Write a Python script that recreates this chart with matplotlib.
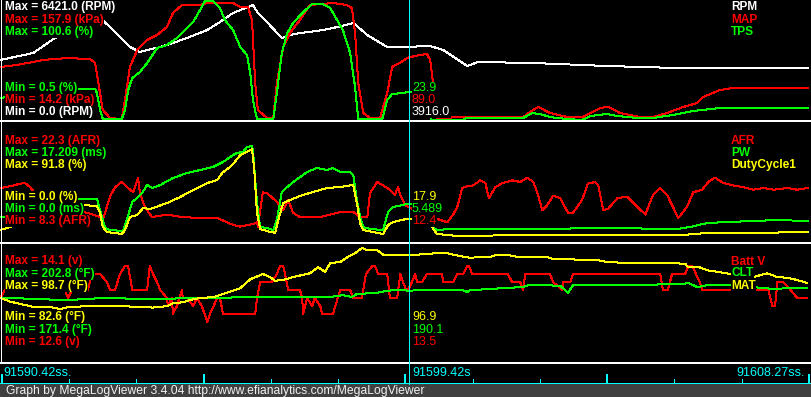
import matplotlib
matplotlib.use("Agg")
import matplotlib.pyplot as plt
from matplotlib.patches import Rectangle
from matplotlib.lines import Line2D

# ---------------- data (time in s since 91590.42) ----------------
T_START = 91590.42
T_CURSOR = 91599.42
T_END = 91608.27
time_labels = ["91590.42ss.", "91599.42s", "91608.27ss."]

# Panel 1: RPM / MAP / TPS
rpm_min, rpm_max = 0.0, 6421.0
rpm_t = [-0.04, 0.69, 1.17, 1.73, 2.17, 2.46, 2.83, 3.05, 3.21, 3.50, 3.78, 4.09, 4.54, 4.82, 5.11, 5.55, 5.66, 5.86,
         6.19, 6.37, 6.59, 6.97, 7.32, 7.77, 8.08, 8.52, 8.98, 9.47, 9.76, 10.29, 10.53, 11.75, 13.38, 14.93, 16.17, 17.83]
rpm_v = [3210, 3585, 4387, 4922, 5457, 4815, 3906, 3638, 3745, 3906, 4120, 4387, 4815, 5243, 5725, 6153, 5725, 5243,
         4387, 4548, 4655, 4762, 4922, 5190, 4548, 3906, 3916, 3959, 3745, 2889, 3103, 3050, 2889, 2782, 2782, 2782]

map_min, map_max = 14.2, 157.9
map_t = [-0.04, 0.33, 0.69, 0.91, 1.44, 1.95, 2.06, 2.12, 2.23, 2.39, 2.65, 2.72, 2.83, 2.99, 3.21, 3.43, 3.65, 3.78,
         3.98, 4.38, 4.54, 5.11, 5.27, 5.44, 5.53, 5.60, 5.66, 5.86, 6.00, 6.08, 6.22, 6.37, 6.59, 6.81, 7.32, 7.63,
         7.74, 7.81, 7.88, 7.99, 8.14, 8.36, 8.52, 8.63, 8.87, 8.98, 9.25, 9.40, 9.47, 9.54, 9.62, 10.29, 11.53, 11.68,
         11.86, 12.12, 12.50, 12.85, 13.23, 13.41, 13.67, 14.12, 14.40, 14.71, 15.07, 15.38, 15.51, 15.88, 16.17, 17.83]
map_v = [77.7, 80.1, 83.7, 86.1, 88.4, 87.2, 82.5, 62.1, 26.2, 16.6, 15.4, 38.2, 77.7, 98.0, 110.0, 116.0, 125.6, 142.3,
         151.9, 151.9, 154.3, 154.3, 149.5, 149.5, 134.0, 58.5, 26.2, 16.6, 16.6, 58.5, 101.6, 118.4, 134.0, 151.9, 154.3, 151.9,
         148.3, 118.4, 58.5, 22.6, 16.6, 16.6, 46.5, 77.7, 84.9, 89.0, 92.0, 93.2, 86.1, 56.1, 16.6, 17.8, 17.8, 23.8,
         29.8, 22.6, 17.8, 17.8, 28.6, 29.8, 22.6, 17.8, 17.8, 22.6, 29.8, 34.6, 41.7, 50.1, 52.5, 52.5]

tps_min, tps_max = 0.5, 100.6
tps_t = [-0.04, 0.33, 0.69, 1.28, 1.62, 2.06, 2.10, 2.17, 2.23, 2.65, 2.72, 2.79, 2.88, 3.05, 3.21, 3.43, 3.65, 3.87,
         4.09, 4.23, 4.38, 4.49, 4.67, 4.82, 4.93, 5.11, 5.27, 5.42, 5.49, 5.55, 5.64, 6.00, 6.08, 6.19, 6.31, 6.44,
         6.64, 6.86, 7.10, 7.26, 7.41, 7.54, 7.70, 7.81, 7.88, 8.41, 8.52, 8.63, 8.87, 8.98, 9.34, 9.49, 10.20, 10.27,
         11.53, 11.73, 11.90, 12.12, 12.28, 12.50, 12.83, 13.01, 13.38, 13.61, 14.05, 14.40, 14.85, 15.29, 15.88, 17.83]
tps_v = [18.8, 21.4, 23.0, 25.5, 26.4, 26.4, 23.0, 8.8, 1.3, 1.3, 8.8, 25.5, 35.5, 40.5, 48.0, 60.5, 63.1, 68.9,
         77.2, 82.2, 92.2, 99.7, 99.7, 93.9, 83.9, 75.6, 61.4, 54.7, 39.7, 17.2, 1.3, 1.3, 23.0, 56.4, 73.1, 81.4,
         89.7, 97.2, 97.2, 93.9, 83.9, 75.6, 56.4, 28.0, 1.3, 1.3, 17.2, 22.2, 23.0, 23.9, 23.9, 0.5, 0.5, 2.2,
         2.2, 6.3, 5.5, 3.0, 2.2, 1.3, 0.5, 3.8, 5.5, 3.8, 2.2, 2.2, 4.7, 8.0, 10.5, 10.5]

# Panel 2: AFR / PW / DutyCycle1
afr_min, afr_max = 8.3, 22.3
afr_t = [-0.04, 0.18, 0.40, 0.51, 0.62, 0.95, 1.50, 1.90, 2.17, 2.23, 2.39, 2.50, 2.65, 2.79, 2.90, 2.99, 3.01, 3.05,
         3.12, 3.21, 3.32, 3.65, 4.00, 4.38, 4.76, 5.11, 5.27, 5.55, 5.64, 5.66, 5.77, 5.86, 6.08, 6.22, 6.33, 6.44,
         6.59, 7.04, 7.48, 7.77, 7.92, 8.08, 8.14, 8.30, 8.43, 8.58, 8.69, 8.76, 8.81, 8.92, 8.98, 9.51, 9.85, 9.98,
         10.07, 10.18, 10.29, 10.42, 10.58, 10.69, 10.77, 10.91, 11.08, 11.30, 11.46, 11.62, 11.75, 11.84, 11.95, 12.06,
         12.19, 12.35, 12.52, 12.63, 12.83, 12.96, 13.12, 13.19, 13.30, 13.41, 13.61, 13.83, 13.96, 14.23, 14.40, 14.56,
         14.71, 14.96, 15.15, 15.29, 15.49, 15.62, 15.77, 15.95, 16.17, 16.39, 16.62, 16.84, 17.06, 17.37, 17.59, 17.83]
afr_v = [14.6, 14.8, 15.1, 15.2, 14.7, 12.6, 12.0, 11.7, 11.2, 10.9, 13.6, 14.7, 15.3, 14.6, 14.1, 15.5, 15.8, 14.1,
         12.9, 12.0, 11.2, 11.5, 11.2, 11.1, 11.1, 10.3, 10.1, 10.4, 10.6, 10.1, 14.1, 14.0, 13.0, 12.0, 13.2, 11.7,
         11.2, 11.2, 11.8, 11.8, 11.2, 11.2, 14.0, 15.3, 14.9, 14.4, 13.8, 14.7, 13.8, 12.6, 12.4, 11.2, 10.6, 11.5,
         12.4, 14.6, 14.8, 14.9, 15.5, 15.2, 13.4, 14.7, 15.2, 15.5, 15.3, 15.8, 15.3, 14.1, 12.0, 12.6,
         13.7, 13.4, 11.7, 11.7, 13.2, 15.1, 15.3, 14.9, 12.0, 12.2, 13.4, 13.6, 12.9, 11.5, 13.8, 14.6,
         13.8, 11.1, 12.4, 14.1, 14.4, 15.3, 15.8, 15.2, 14.9, 14.7, 14.4, 14.6, 14.4, 14.6, 14.4, 14.6]

pw_min, pw_max = 0.0, 17.209
pw_t = [-0.04, 0.18, 0.95, 1.66, 2.10, 2.12, 2.21, 2.28, 2.39, 2.68, 2.76, 2.88, 2.99, 3.10, 3.21, 3.32, 3.50, 3.78,
        4.09, 4.38, 4.67, 4.89, 5.11, 5.20, 5.33, 5.42, 5.53, 5.55, 5.64, 5.71, 5.86, 6.00, 6.08, 6.19, 6.31, 6.44,
        6.75, 6.97, 7.19, 7.32, 7.48, 7.70, 7.77, 7.85, 7.92, 7.99, 8.14, 8.43, 8.54, 8.65, 8.87, 8.98, 9.36, 9.51,
        9.62, 9.91, 11.75, 13.38, 14.93, 15.22, 15.60, 16.04, 16.62, 17.15, 17.83]
pw_v = [3.59, 3.59, 5.31, 6.17, 6.17, 5.74, 3.59, 2.01, 1.72, 1.58, 3.15, 5.74, 6.31, 7.03, 8.17, 7.74, 8.17, 9.18,
        9.89, 10.32, 10.76, 11.47, 12.48, 12.76, 12.91, 13.62, 13.77, 13.19, 5.59, 2.15, 2.01, 1.72, 3.15, 7.17, 7.89, 8.60,
        10.04, 10.61, 10.32, 10.61, 10.04, 10.04, 9.61, 6.02, 3.59, 2.15, 1.86, 1.72, 4.30, 5.02, 5.31, 5.489, 5.49, 2.15,
        1.72, 1.86, 1.86, 2.01, 1.86, 2.15, 2.72, 2.87, 3.01, 3.15, 3.01]

duty_min, duty_max = 0.0, 91.8
duty_t = [-0.04, 0.33, 0.69, 1.06, 1.44, 1.79, 2.10, 2.17, 2.23, 2.32, 2.65, 2.72, 2.83, 2.99, 3.12, 3.27, 3.65, 3.94,
          4.23, 4.54, 4.76, 4.87, 5.04, 5.15, 5.27, 5.42, 5.53, 5.58, 5.64, 5.71, 5.86, 6.04, 6.11, 6.22, 6.37, 6.59,
          6.88, 7.19, 7.48, 7.77, 7.85, 7.92, 7.99, 8.43, 8.54, 8.65, 8.98, 9.36, 9.51, 9.62, 10.09, 11.75, 13.45, 15.07,
          15.60, 16.62, 17.83]
duty_v = [9.2, 13.0, 18.4, 22.2, 26.0, 28.3, 27.5, 22.2, 11.5, 7.7, 6.1, 9.2, 19.1, 20.7, 26.0, 25.2, 29.8, 34.4,
          39.8, 45.1, 47.4, 52.8, 57.4, 61.2, 66.6, 68.9, 71.1, 55.1, 22.2, 9.9, 8.4, 6.9, 16.8, 29.8, 32.1, 35.2,
          38.3, 41.3, 42.1, 43.6, 29.8, 14.5, 9.2, 6.1, 13.0, 15.3, 17.9, 17.9, 11.5, 6.1, 4.6, 5.4, 5.4, 5.4,
          6.9, 6.9, 7.7]

# Panel 3: Batt V / CLT / MAT
batt_min, batt_max = 12.6, 14.1
batt_t = [-0.04, 0.07, 1.28, 1.39, 1.46, 1.55, 1.90, 1.99, 2.17, 2.32, 2.39, 2.50, 2.61, 2.72, 2.79, 2.88, 3.21, 3.27,
          3.34, 3.43, 3.50, 3.65, 3.67, 3.76, 3.78, 3.87, 3.98, 4.00, 4.09, 4.23, 4.31, 4.42, 4.54, 4.60, 4.76, 4.82,
          4.89, 5.60, 5.64, 5.71, 5.97, 6.08, 6.15, 6.22, 6.26, 6.33, 6.59, 6.64, 6.66, 6.75, 6.86, 6.92, 7.04, 7.08,
          7.32, 7.48, 7.70, 7.77, 7.96, 8.05, 8.19, 8.25, 8.32, 8.52, 8.56, 8.58, 8.74, 8.81, 8.87, 8.94, 8.98, 9.07,
          9.14, 9.18, 9.29, 9.40, 9.73, 9.76, 9.98, 10.07, 10.20, 10.29, 10.33, 10.40, 11.19, 11.28, 11.46, 11.53, 11.57,
          12.12, 12.19, 12.39, 12.41, 12.57, 12.63, 14.56, 14.62, 14.73, 14.82, 15.11, 15.18, 15.27, 15.43, 15.49, 16.95,
          17.04, 17.10, 17.15, 17.28, 17.37, 17.59, 17.81]
batt_v = [13.4, 13.5, 13.5, 13.5, 13.4, 13.5, 13.5, 13.7, 13.7, 13.6, 13.5, 13.5, 13.7, 13.8, 13.8, 13.5, 13.5, 13.8,
          13.7, 13.6, 13.5, 13.4, 13.3, 13.4, 13.2, 13.3, 13.5, 13.4, 13.4, 13.3, 13.4, 13.3, 13.1, 13.2, 13.4, 13.4,
          13.2, 13.2, 13.4, 13.6, 13.6, 13.7, 13.8, 13.8, 13.7, 13.5, 13.5, 13.4, 13.2, 13.4, 13.3, 13.4, 13.3, 13.2,
          13.2, 13.5, 13.5, 13.4, 13.4, 13.7, 13.8, 13.8, 13.7, 13.7, 13.5, 13.4, 13.4, 13.7, 13.6, 13.5, 13.5, 13.6,
          13.7, 13.6, 13.6, 13.7, 13.7, 13.6, 13.6, 13.7, 13.7, 13.8, 13.8, 13.7, 13.7, 13.6, 13.6, 13.5, 13.7,
          13.7, 13.6, 13.5, 13.6, 13.6, 13.7, 13.7, 13.5, 13.5, 13.7, 13.7, 13.8, 13.8, 13.6, 13.5, 13.5,
          13.3, 13.3, 13.6, 13.6, 13.55, 13.4, 13.4]

clt_min, clt_max = 171.4, 202.8
clt_t = [-0.04, 0.33, 0.69, 1.44, 2.17, 3.50, 4.09, 5.77, 6.75, 7.26, 7.54, 7.74, 7.85, 8.30, 8.36, 8.65, 8.98, 10.20,
         10.29, 10.35, 10.80, 11.17, 11.53, 11.64, 12.06, 12.35, 12.52, 12.63, 13.67, 15.07, 15.18, 15.38, 15.60, 16.26,
         16.62, 17.06, 17.50, 17.81]
clt_v = [188.1, 188.1, 187.9, 187.6, 188.1, 187.9, 188.1, 188.4, 188.4, 188.4, 188.9, 188.4, 189.2, 189.5, 189.7, 190.2,
         190.1, 190.2, 189.7, 190.2, 190.5, 190.8, 191.0, 191.5, 191.5, 191.3, 189.5, 191.5, 191.5, 191.8, 192.1, 191.0,
         191.5, 191.5, 191.0, 190.5, 190.8, 190.8]

mat_min, mat_max = 82.6, 98.7
mat_t = [-0.04, 0.18, 0.40, 0.69, 1.06, 1.28, 1.50, 2.01, 2.54, 3.05, 3.34, 3.65, 3.78, 3.98, 4.16, 4.38, 4.67, 4.98,
         5.27, 5.49, 5.77, 5.93, 6.04, 6.22, 6.44, 6.81, 6.99, 7.15, 7.26, 7.48, 7.65, 7.81, 7.96, 8.08, 8.30, 8.43,
         8.98, 9.62, 9.85, 10.13, 10.35, 10.80, 10.95, 11.17, 11.39, 12.06, 12.19, 13.16, 13.38, 13.83, 14.27, 15.11,
         15.18, 15.43, 15.60, 15.82, 16.04, 16.17, 16.62, 16.92, 17.15, 17.37, 17.59, 17.81]
mat_v = [91.2, 90.7, 90.4, 90.0, 90.0, 89.7, 90.0, 90.1, 90.1, 90.0, 89.9, 90.1, 90.5, 90.6, 90.9, 91.2, 91.3, 91.9,
         92.5, 93.7, 94.4, 94.0, 93.5, 93.6, 94.0, 94.5, 95.3, 94.7, 95.9, 96.0, 96.7, 97.2, 97.9, 97.6, 97.6, 97.0,
         96.9, 97.2, 97.2, 96.8, 96.6, 96.7, 97.0, 97.0, 96.7, 96.7, 96.4, 96.3, 96.0, 95.9, 95.9, 95.8,
         95.3, 95.3, 94.9, 94.7, 94.5, 94.3, 94.0, 94.5, 94.0, 93.9, 93.6, 93.2]

# values at the cursor
cursor_p1 = ["23.9", "89.0", "3916.0"]
cursor_p2 = ["17.9", "5.489", "12.4"]
cursor_p3 = ["96.9", "190.1", "13.5"]

footer = "Graph by MegaLogViewer 3.4.04 http://www.efianalytics.com/MegaLogViewer"

# ---------------- drawing ----------------
W, H = 811, 397
fig = plt.figure(figsize=(W / 100, H / 100), dpi=100)
fig.patch.set_facecolor('black')

WHITE, RED, GREEN, YELLOW, CYAN = '#FFFFFF', '#FF0000', '#00FF00', '#FFFF00', '#00FFFF'
span = T_END - T_START
s_per_px = span / 807.0
XLIM = (-2 * s_per_px, span + 2 * s_per_px)

BOLD = ['Liberation Sans', 'DejaVu Sans']
THIN = ['Liberation Sans Narrow', 'Liberation Sans', 'DejaVu Sans']


def fy(y):
    return 1 - y / H


def series(top, bot, t, v, lo, hi, color, z):
    a = fig.add_axes([0, fy(bot), 1, (bot - top) / H])
    a.set_xlim(XLIM)
    a.set_ylim(lo, hi)
    a.set_axis_off()
    a.set_zorder(z)
    a.plot(t, v, color=color, lw=0.72, antialiased=False, clip_on=False)
    return a


def label(x, y, s, color, bold=True, ha='left', size=8.6):
    fig.text(x / W, fy(y), s, color=color, fontsize=size,
             fontweight='bold' if bold else 'normal',
             family=BOLD if bold else THIN, ha=ha, va='center', zorder=6,
             bbox=dict(facecolor='black', edgecolor='none', pad=0.3))


# Panel 1
P1 = (0, 120)
series(*P1, rpm_t, rpm_v, rpm_min, rpm_max, WHITE, 1.0)
series(*P1, map_t, map_v, map_min, map_max, RED, 1.1)
series(*P1, tps_t, tps_v, tps_min, tps_max, GREEN, 1.2)
label(5, 7, f"Max = {rpm_max:.1f} (RPM)", WHITE)
label(5, 20, f"Max = {map_max:.1f} (kPa)", RED)
label(5, 32, f"Max = {tps_max:.1f} (%)", GREEN)
label(5, 88, f"Min = {tps_min:.1f} (%)", GREEN)
label(5, 100, f"Min = {map_min:.1f} (kPa)", RED)
label(5, 112, f"Min = {rpm_min:.1f} (RPM)", WHITE)
label(731, 7, "RPM", WHITE)
label(731, 20, "MAP", RED)
label(731, 32, "TPS", GREEN)
for s, c, y in zip(cursor_p1, [GREEN, RED, WHITE], [88, 100, 112]):
    label(412, y, s, c, bold=False, size=9)

# Panel 2
P2 = (122, 242)
series(*P2, afr_t, afr_v, afr_min, afr_max, RED, 1.0)
series(*P2, pw_t, pw_v, pw_min, pw_max, GREEN, 1.1)
series(*P2, duty_t, duty_v, duty_min, duty_max, YELLOW, 1.2)
label(5, 141, f"Max = {afr_max:.1f} (AFR)", RED)
label(5, 153, f"Max = {pw_max:.3f} (ms)", GREEN)
label(5, 165, f"Max = {duty_max:.1f} (%)", YELLOW)
label(5, 197, f"Min = {duty_min:.1f} (%)", YELLOW)
label(5, 209, f"Min = {pw_min:.1f} (ms)", GREEN)
label(5, 221, f"Min = {afr_min:.1f} (AFR)", RED)
label(731, 141, "AFR", RED)
label(731, 153, "PW", GREEN)
label(731, 165, "DutyCycle1", YELLOW)
for s, c, y in zip(cursor_p2, [YELLOW, GREEN, RED], [197, 209, 221]):
    label(412, y, s, c, bold=False, size=9)

# Panel 3
P3 = (242, 362)
series(*P3, batt_t, batt_v, batt_min, batt_max, RED, 1.0)
series(*P3, clt_t, clt_v, clt_min, clt_max, GREEN, 1.1)
series(*P3, mat_t, mat_v, mat_min, mat_max, YELLOW, 1.2)
label(5, 261, f"Max = {batt_max:.1f} (v)", RED)
label(5, 274, f"Max = {clt_max:.1f} (\u00b0F)", GREEN)
label(5, 286, f"Max = {mat_max:.1f} (\u00b0F)", YELLOW)
label(5, 317, f"Min = {mat_min:.1f} (\u00b0F)", YELLOW)
label(5, 330, f"Min = {clt_min:.1f} (\u00b0F)", GREEN)
label(5, 342, f"Min = {batt_min:.1f} (v)", RED)
label(731, 262, "Batt V", RED)
label(731, 273, "CLT", GREEN)
label(731, 286, "MAT", YELLOW)
for s, c, y in zip(cursor_p3, [YELLOW, GREEN, RED], [317, 330, 342]):
    label(412, y, s, c, bold=False, size=9)

# separators and frame
for yy in (121, 242.5, 362.5):
    fig.add_artist(Line2D([0, 1], [fy(yy), fy(yy)], color=WHITE, lw=1.44, zorder=2, antialiased=False))
for xx in (0.5, 810.5):
    fig.add_artist(Line2D([xx / W, xx / W], [fy(0), fy(362)], color=WHITE, lw=0.72, zorder=2, antialiased=False))

# time axis
ax_t = fig.add_axes([0, fy(384), 1, 22 / H])
ax_t.set_xlim(XLIM)
ax_t.set_ylim(0, 22)
ax_t.set_axis_off()
tick_step = span / 12
for k in range(13):
    major = (k % 3 == 0)
    ax_t.vlines(k * tick_step, 0, 10 if major else 5, color=CYAN, lw=1.44 if major else 0.72, antialiased=False)
ax_t.axhline(0.5, color=CYAN, lw=0.9, antialiased=False)
ax_t.text(0 + 1 * s_per_px, 11, time_labels[0], color=CYAN, fontsize=9, family=THIN, ha='left', va='center')
ax_t.text(T_CURSOR - T_START + 3 * s_per_px, 11, time_labels[1], color=CYAN, fontsize=9, family=THIN, ha='left', va='center')
ax_t.text(span - 4 * s_per_px, 11, time_labels[2], color=CYAN, fontsize=9, family=THIN, ha='right', va='center')

# cursor line
cx = (T_CURSOR - T_START - XLIM[0]) / (XLIM[1] - XLIM[0])
fig.add_artist(Line2D([cx, cx], [fy(0), fy(384)], color=CYAN, lw=0.72, zorder=4, antialiased=False))

# footer
fig.add_artist(Rectangle((0, 0), 1, 13 / H, transform=fig.transFigure, facecolor='#404040', edgecolor='none', zorder=1))
fig.text(6 / W, fy(391), footer, color='#F0F0F0', fontsize=8.7, family=THIN, ha='left', va='center', zorder=6)

fig.savefig('out.png', dpi=100, facecolor='black')
